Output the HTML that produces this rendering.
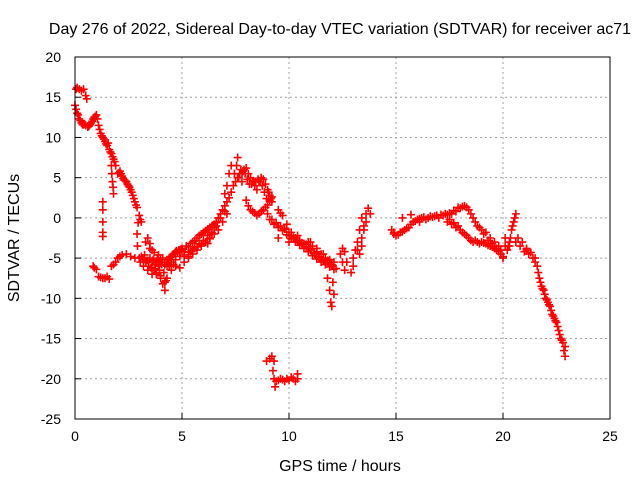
<!DOCTYPE html>
<html><head><meta charset="utf-8"><style>
html,body{margin:0;padding:0;background:#fff;}
svg{display:block;font-family:"Liberation Sans",sans-serif;}
</style></head><body>
<svg id="chart" width="640" height="480" viewBox="0 0 640 480">
<rect width="640" height="480" fill="#fff"/>
<text x="340" y="34" font-size="16" text-anchor="middle">Day 276 of 2022, Sidereal Day-to-day VTEC variation (SDTVAR) for receiver ac71</text>
<text x="340" y="471" font-size="16" text-anchor="middle">GPS time / hours</text>
<text transform="translate(19,238) rotate(-90)" font-size="16" text-anchor="middle">SDTVAR / TECUs</text>
<g id="grid"></g>
<g id="ticks"></g>
<g id="marks" stroke="#f00" stroke-width="1.6"></g>
<rect x="75" y="57" width="535" height="362" fill="none" stroke="#000" stroke-width="1"/>
</svg>
<script>
const xTicks=[0,5,10,15,20,25];
const yTicks=[20,15,10,5,0,-5,-10,-15,-20,-25];
const hours=[0,0.05,0.1,0.15,0.2,0.3,0.35,0.4,0.5,0.6,0.7,0.8,0.85,0.9,1.0,1.05,1.1,1.15,1.2,1.3,1.4,1.5,1.55,1.6,1.7,1.75,1.8,1.85,1.9,
0.05,0.1,0.2,0.3,0.4,0.5,0.55,
1.7,1.72,1.75,1.78,1.8,
2.0,2.1,2.2,2.3,2.4,2.5,2.6,2.7,2.8,2.9,3.0,3.05,3.1,2.95,2.9,2.92,
1.3,1.3,1.3,1.3,1.3,
0.85,0.9,1.0,1.1,1.2,1.3,1.4,1.5,1.6,1.7,1.8,1.9,2.0,2.1,2.2,2.4,2.6,2.8,
3.0,3.1,3.2,3.3,3.4,3.5,3.6,3.7,3.8,3.9,4.0,4.1,4.2,4.3,4.4,4.5,4.6,4.7,4.8,4.9,5.0,
3.3,3.4,3.5,3.6,3.7,3.8,3.9,4.0,4.1,4.2,4.2,4.3,4.5,4.7,4.9,5.1,5.3,3.2,3.4,3.6,3.8,4.0,4.4,4.6,
5.0,5.2,5.4,5.6,5.8,6.0,6.2,6.4,6.6,6.8,7.0,7.2,7.3,7.4,7.5,7.6,5.3,5.5,5.7,5.9,6.1,6.3,6.5,6.7,6.9,7.1,
6.2,6.3,6.4,6.5,6.6,6.7,7.0,7.1,7.2,7.3,7.6,7.7,7.8,
7.8,7.9,8.0,8.1,8.2,8.3,8.4,8.5,8.6,8.7,8.8,8.9,9.0,9.1,9.2,
8.0,8.1,8.2,8.3,8.4,8.5,8.6,8.7,8.8,8.9,9.0,9.1,9.2,
9.0,9.2,9.4,9.6,9.8,10.0,10.2,10.4,10.6,10.8,11.0,11.2,11.4,11.6,11.8,12.0,12.2,
9.5,9.7,9.9,10.1,10.3,10.5,10.7,10.9,11.1,11.3,11.5,11.7,11.9,12.1,
9.5,10.0,10.4,11.0,11.3,11.6,
11.8,11.9,11.95,12.0,12.1,12.05,
12.4,12.5,12.6,12.5,12.6,12.7,
12.9,13.0,13.0,13.1,13.2,13.2,13.3,13.4,13.5,13.6,13.7,13.8,13.5,13.4,13.3,13.4,13.6,
14.8,14.9,15.0,15.2,15.4,15.6,15.8,16.0,16.2,16.4,16.6,16.8,17.0,17.2,17.4,17.6,17.8,18.0,18.2,18.3,18.4,18.6,18.8,19.0,19.2,19.4,19.6,19.8,
17.4,17.6,17.8,18.0,18.2,18.4,18.6,18.8,19.0,19.2,19.4,19.6,19.8,20.0,15.3,15.7,16.1,
20.0,20.2,20.3,20.4,20.5,20.6,20.7,20.8,21.0,21.2,21.4,21.6,21.7,21.8,21.9,22.0,22.1,22.2,22.3,22.4,22.5,22.6,22.7,22.8,22.85,22.9,22.9,
20.1,20.3,20.6,21.1,21.5,
8.95,9.1,9.2,9.3,9.25,9.3,9.35,9.4,9.5,9.6,9.7,9.8,9.9,10.0,10.1,10.2,10.3,10.4,10.4,
0.25,0.45,0.65,0.75,0.95,1.25,1.35,1.45,1.65,
2.05,2.15,2.25,2.35,2.45,2.55,2.65,2.75,2.85,
3.05,3.15,3.25,3.35,3.45,3.55,3.65,3.75,3.85,3.95,4.05,4.15,4.25,4.35,4.45,4.55,4.65,4.75,4.85,4.95,
3.5,3.7,3.9,4.1,4.3,4.5,4.7,4.9,5.1,5.3,5.5,5.7,5.9,
5.1,5.3,5.5,5.7,5.9,6.1,6.3,6.5,6.7,6.9,7.1,5.4,5.6,5.8,6.0,6.2,6.4,6.6,6.8,7.0,
7.45,7.55,7.65,7.75,7.85,7.95,8.05,8.15,8.25,8.35,8.45,8.55,8.65,8.75,8.85,8.95,9.05,9.15,
9.1,9.3,9.5,9.7,9.9,10.1,10.3,10.5,10.7,10.9,11.1,11.3,11.5,11.7,11.9,12.1,
9.6,9.8,10.0,10.2,10.4,10.6,10.8,11.0,11.2,11.4,11.6,11.8,12.0,
14.9,15.1,15.3,15.5,15.7,15.9,16.1,16.3,16.5,16.7,16.9,17.1,17.3,17.5,17.7,17.9,18.1,18.5,18.7,18.9,19.1,19.3,19.5,19.7,19.9,
17.5,17.7,17.9,18.1,18.3,18.5,18.7,18.9,19.1,19.3,19.5,19.7,19.9,
20.1,20.25,20.35,20.45,20.55,20.9,21.1,21.3,21.5,21.65,21.75,21.85,21.95,22.05,22.15,22.25,22.35,22.45,22.55,22.65,22.75];
const sdtvar=[14,13.5,13,12.8,12.3,11.8,11.6,11.6,11.5,11.3,11.6,12,12.3,12.5,12.8,12.3,11.5,11,10.5,10,9.5,9,9.3,8.5,8,7.6,7.3,7,6.5,
16,16.2,16,15.8,16,15.2,14.8,
6.5,5.5,4.5,3.8,3,
5.5,5.8,5.2,4.7,4.5,4,3.5,2.8,2,1.3,0.3,-0.2,-0.5,-0.6,-2,-3.5,
2,1,-0.5,-1.8,-2.3,
-6,-6.2,-6.4,-7.3,-7.4,-7.5,-7.5,-7.3,-7.6,-6,-5.8,-5.5,-5,-4.8,-4.6,-4.5,-4.8,-5,
-5,-4.8,-5.2,-5.5,-5.3,-5,-5.5,-5.8,-5.6,-5.4,-5.2,-5.5,-5.8,-5.2,-5,-4.8,-4.5,-4.2,-4.3,-4,-3.8,
-3,-2.5,-3.2,-4,-6.5,-7,-6,-7.5,-8.2,-9,-8,-7.5,-6.5,-6,-6.2,-5.5,-5,-6,-6.5,-7,-6.8,-7.2,-6,-5.8,
-4,-3.5,-3.2,-2.8,-2.2,-1.8,-1.4,-1,-0.5,0.5,1.5,2.5,3.2,4,4.5,5,-4.8,-4.5,-4,-3.5,-3,-2.5,-2,-1.5,-0.5,0.5,
-3.2,-2.6,-2,-1.2,-0.6,0,3,4,5.5,6.5,7.5,5.5,4.5,
5.5,6,6.2,5.5,5,4.5,4,3.5,4.5,5,4.8,4.2,3.5,2.8,2,
2.2,1.5,1,0.8,0.6,0.3,0.5,0.8,1,1.3,1.6,2.2,2.6,
0.5,-0.2,-0.6,-1,-1.4,-1.8,-2.4,-2.8,-3.2,-3.6,-4,-4.5,-5,-5.3,-5.6,-6,-6.3,
1,0.3,-0.8,-1.8,-2.5,-2.8,-3.2,-3,-3.5,-4.2,-4.5,-5,-5.2,-5.5,
-2.5,-3,-2.2,-3,-3.8,-4.5,
-7.5,-9,-10.5,-11,-9.5,-8,
-4.5,-5.5,-6.5,-3.8,-4.2,-5.5,
-6.8,-6,-5,-4,-3,-4,-4.5,-3.5,-1,0.5,1.2,0.5,-1.5,-2.5,-1.5,0,-0.5,
-1.5,-2,-2.2,-1.8,-1.5,-1.2,-0.5,-0.2,0,-0.2,0.2,0.2,0,0.3,0.4,0.5,0.8,1.2,1.5,1.3,1,0,-1,-1.5,-1.8,-2.5,-3,-3.5,
-0.5,-0.8,-1.2,-1.5,-2,-2.5,-3,-3,-3,-3.2,-3.5,-3.8,-4.2,-4.8,0,0.4,-0.5,
-5,-4,-3,-1.5,-0.5,0.5,-2.5,-3.5,-4.2,-4.5,-5,-6,-7.5,-8.5,-9,-10,-10.5,-11,-12,-12.5,-13,-14,-15,-15.5,-16.5,-17.2,-16,
-2.5,-3.5,-3,-4,-5,
-17.8,-17.5,-17.2,-17.8,-19,-20,-21,-20.3,-20.2,-20,-20.1,-20.3,-20,-20.2,-19.8,-20,-20.3,-20,-19.4,
12.1,11.7,11.4,11.8,12.6,10.2,9.8,9.2,8.2,
5.6,5.5,4.9,4.6,4.2,3.8,3.2,2.4,1.6,
-5.5,-5,-4.6,-5.3,-6,-6.2,-5.2,-6.3,-5,-6.5,-5.8,-6.8,-7.8,-5.6,-4.9,-4.7,-4.4,-4.1,-4,-3.9,
-3.8,-4.3,-4.6,-5,-6,-5.5,-5.2,-4.8,-4.6,-4.3,-4,-3.6,-3.3,
-4.2,-3.6,-3,-2.5,-2,-1.6,-1.2,-0.8,0,1,2,-4.2,-3.8,-3.2,-2.8,-2.2,-1.8,-1,0,0.8,
5.5,6.5,5,6,5.8,5.5,4.8,4.2,4.2,4.6,4.5,4.8,4.5,4,3.2,2.4,3.2,2.4,
-0.2,-0.8,-1.2,-1.6,-2.1,-2.6,-3,-3.4,-3.8,-4.2,-4.7,-5.1,-5.5,-5.8,-6.1,-6.4,
0.6,-1.3,-2.2,-2.6,-3,-3.1,-3.3,-3.8,-4.4,-4.8,-5.1,-5.3,-5.8,
-1.8,-2.1,-1.7,-1.3,-0.8,-0.4,-0.1,0.1,0,0.1,0.3,0.4,0.5,0.6,0.9,1.3,1.4,0.5,-0.5,-1.2,-2,-2.8,-3.2,-3.8,-4,
-0.2,-0.6,-1,-1.8,-2.2,-2.8,-2.8,-3.2,-3.1,-3.4,-3.6,-4,-4.5,
-3.5,-3.5,-2.5,-1,0,-3,-3.8,-4.3,-5.5,-6.8,-8,-8.8,-9.5,-10.2,-10.8,-11.5,-12.2,-12.8,-13.5,-14.5,-15.2];

const X0=75,X1=610,Y0=419,Y1=57;
function xs(v){return X0+(v-0)/(25-0)*(X1-X0);}
function ys(v){return Y0-(v-(-25))/(20-(-25))*(Y0-Y1);}
const NS="http://www.w3.org/2000/svg";
const grid=document.getElementById('grid'),ticks=document.getElementById('ticks'),marks=document.getElementById('marks');
function mk(tag,attrs,parent){const e=document.createElementNS(NS,tag);for(const k in attrs)e.setAttribute(k,attrs[k]);parent.appendChild(e);return e;}
xTicks.forEach(t=>{
  const x=xs(t);
  if(t>0&&t<25){const g=mk('line',{x1:x,x2:x,y1:Y1,y2:Y0,stroke:'#a0a0a0','stroke-dasharray':'2,3'},grid);
  
  }
  const l=mk('line',{x1:x,x2:x,y1:Y0,y2:Y0-6,stroke:'#000'},ticks);
  
  
  const tx=mk('text',{x:x,y:Y0+22,'font-size':14,'text-anchor':'middle'},ticks);tx.textContent=t;
  
  
});
yTicks.forEach(t=>{
  const y=ys(t);
  if(t>-25&&t<20){const g=mk('line',{x1:X0,x2:X1,y1:y,y2:y,stroke:'#a0a0a0','stroke-dasharray':'2,3'},grid);
  
  }
  const l=mk('line',{x1:X0,x2:X0+6,y1:y,y2:y,stroke:'#000'},ticks);
  
  
  const tx=mk('text',{x:X0-14,y:y+5,'font-size':14,'text-anchor':'end'},ticks);tx.textContent=t;
  
  
});
const n=Math.min(hours.length,sdtvar.length);
for(let i=0;i<n;i++){
  const x=xs(hours[i]),y=ys(sdtvar[i]);
  const p=mk('path',{d:`M${x-4},${y}H${x+4}M${x},${y-4}V${y+4}`},marks);
  
  
}
</script>
</body></html>
